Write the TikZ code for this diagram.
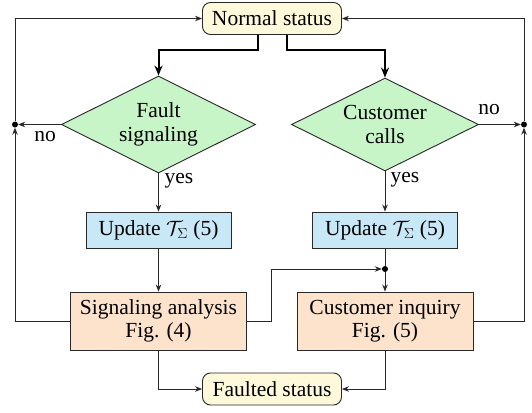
\documentclass[tikz,border=0pt]{standalone}
\usepackage{fontspec}
\setmainfont{LiberationSerif}[Extension=.ttf,UprightFont=*-Regular,BoldFont=*-Bold,ItalicFont=*-Italic]
\usetikzlibrary{shapes.geometric,arrows.meta}
\definecolor{statfill}{RGB}{255,249,219}
\definecolor{decfill}{RGB}{200,245,200}
\definecolor{updfill}{RGB}{200,232,248}
\definecolor{procfill}{RGB}{253,226,204}
\definecolor{linecol}{RGB}{40,40,40}
\begin{document}
\begin{tikzpicture}[x=1pt,y=-1pt,font=\rmfamily\fontsize{21.5}{23.5}\selectfont,
  base/.style={draw=linecol, line width=0.9pt, align=center, inner sep=0pt},
  status/.style={base, rounded corners=8pt, fill=statfill, minimum width=139pt, minimum height=32pt},
  decision/.style={base, diamond, aspect=2, fill=decfill},
  upd/.style={base, fill=updfill, minimum width=145pt, minimum height=36pt},
  proc/.style={base, fill=procfill, minimum width=176pt, minimum height=58pt},
  jdot/.style={circle, fill=black, inner sep=0pt, minimum size=6pt},
  arr/.style={draw=linecol, line width=0.9pt, -{Stealth[length=7pt,width=5.5pt]}},
  plain/.style={draw=linecol, line width=0.9pt},
  thickarr/.style={draw=black, line width=2pt, -{Stealth[length=10pt,width=8pt]}},
  lbl/.style={inner sep=0pt}
]
\useasboundingbox (0,0) rectangle (532,412);
% nodes
\node[status] (normal) at (272,18.5) {Normal status};
\node[status] (faulted) at (272,389) {Faulted status};
\node[decision, minimum width=194pt, minimum height=97pt] (fs) at (158.5,124.5) {Fault\\signaling};
\node[decision, minimum width=187pt, minimum height=93pt] (cc) at (385,124.5) {Customer\\calls};
\node[upd] (u1) at (158.5,230) {Update $\mathcal{T}_\Sigma$ (5)};
\node[upd] (u2) at (385,230) {Update $\mathcal{T}_\Sigma$ (5)};
\node[proc] (sa) at (158.5,321) {Signaling analysis\\Fig. (4)};
\node[proc] (ci) at (385,321) {Customer inquiry\\Fig. (5)};
\node[jdot] (j1) at (15,124.5) {};
\node[jdot] (j2) at (524,124.5) {};
\node[jdot] (j3) at (385,269) {};
\coordinate (t1) at (258,50);
\coordinate (t2) at (287,50);
\coordinate (k1) at (271,321);
% labels
\node[lbl] (no1) at (45,137) {no};
\node[lbl] (no2) at (489,110) {no};
\node[lbl] (yes1) at (179,181) {yes};
\node[lbl] (yes2) at (405,180) {yes};
% connectors
\draw[thickarr] (normal.south -| t1) -- (t1) -| (fs.north);
\draw[thickarr] (normal.south -| t2) -- (t2) -| (cc.north);
\draw[arr] (fs.west) -- (j1);
\draw[arr] (sa.west) -| (j1);
\draw[arr] (j1) |- (normal.west);
\draw[arr] (cc.east) -- (j2);
\draw[arr] (ci.east) -| (j2);
\draw[arr] (j2) |- (normal.east);
\draw[arr] (fs.south) -- (u1.north);
\draw[arr] (cc.south) -- (u2.north);
\draw[arr] (u1.south) -- (sa.north);
\draw[plain] (u2.south) -- (j3);
\draw[arr] (j3) -- (ci.north);
\draw[arr] (sa.east) -- (k1) |- (j3);
\draw[arr] (sa.south) |- (faulted.west);
\draw[arr] (ci.south) |- (faulted.east);
\end{tikzpicture}
\end{document}
